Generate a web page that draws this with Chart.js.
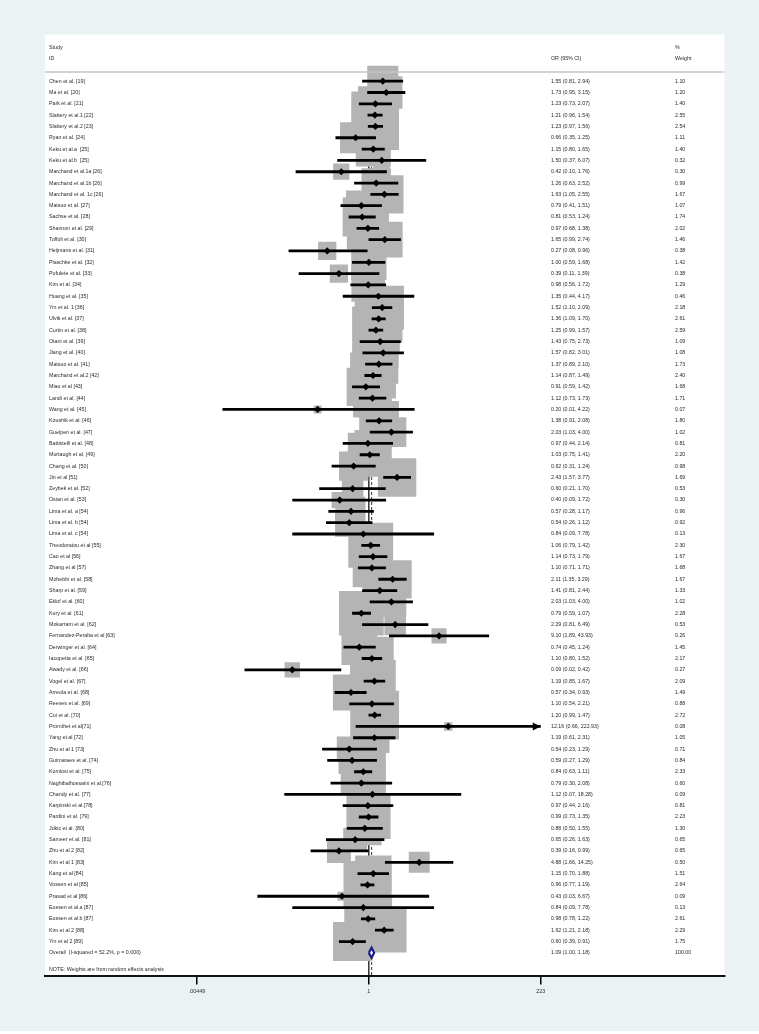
<!DOCTYPE html>
<html><head><meta charset="utf-8">
<script src="https://cdn.jsdelivr.net/npm/chart.js@4/dist/chart.umd.min.js"></script>
<style>html,body{margin:0;padding:0;background:#fff}#wrap{width:759px;height:1034px;position:relative}</style>
</head><body><div id="wrap"><canvas id="c" width="759" height="1034"></canvas></div>
<script>
const studies = [
"Chen et al. [19]","Ma et al. [20]","Park et al. [21]","Slattery et al.1 [22]","Slattery et al.2 [23]",
"Ryan et al. [24]","Keku et al.a  [25]","Keku et al.b  [25]","Marchand et al.1a [26]","Marchand et al.1b [26]",
"Marchand et al. 1c [26]","Matsuo et al. [27]","Sachse et al. [28]","Shannon et al. [29]","Toffoli et al. [30]",
"Heijmans et al. [31]","Plaschke et al. [32]","Pufulete et al. [33]","Kim et al. [34]","Huang et al. [35]",
"Yin et al. 1 [36]","Ulvik et al. [37]","Curtin et al. [38]","Otani et al. [39]","Jiang et al. [40]",
"Matsuo et al. [41]","Marchand et al.2 [42]","Miao et al [43]","Landi et al. [44]","Wang et al. [45]",
"Koushik et al. [46]","Guelpen et al. [47]","Battistelli et al. [48]","Murtaugh et al. [49]","Chang et al. [50]",
"Jin et al [51]","Zeybek et al. [52]","Osian et al. [53]","Lima et al. a [54]","Lima et al. b [54]",
"Lima et al. c [54]","Theodoratou et al [55]","Cao et al [56]","Zhang et al [57]","Mohebbi et al. [58]",
"Sharp et al. [59]","Eklof et al. [60]","Kury et al. [61]","Mokarram et al. [62]","Fernandez-Peralta et al [63]",
"Derwinger et al. [64]","Iacopetta et al. [65]","Awady et al. [66]","Vogel et al. [67]","Arreola et al. [68]",
"Reeves et al. [69]","Cui et al. [70]","Promthet et al[71]","Yang et al [72]","Zhu et al 1 [73]",
"Guimaraes et al. [74]","Komlosi et al. [75]","Naghibalhossaini et al.[76]","Chandy et al. [77]","Karpinski et al.[78]",
"Pardini et al. [79]","Jokic et al. [80]","Sameer et al. [81]","Zhu et al 2 [82]","Kim et al 1 [83]",
"Kang et al [84]","Vossen et al [85]","Prasad et al [86]","Eussen et al.a [87]","Eussen et al.b [87]",
"Kim et al 2 [88]","Yin et al 2 [89]"
];
const orValues = [1.55,1.73,1.23,1.21,1.23,0.66,1.15,1.50,0.42,1.26,1.63,0.79,0.81,0.97,1.65,0.27,1.00,0.39,0.98,1.35,
1.52,1.36,1.25,1.43,1.57,1.37,1.14,0.91,1.12,0.20,1.38,2.03,0.97,1.03,0.62,2.43,0.60,0.40,0.57,0.54,
0.84,1.06,1.14,1.10,2.11,1.41,2.03,0.79,2.29,9.10,0.74,1.10,0.09,1.19,0.57,1.10,1.20,12.16,1.19,0.54,
0.59,0.84,0.79,1.12,0.97,0.99,0.88,0.65,0.39,4.88,1.15,0.96,0.43,0.84,0.98,1.62,0.60];
const ciLower = [0.81,0.95,0.73,0.96,0.97,0.35,0.80,0.37,0.10,0.63,1.05,0.41,0.53,0.68,0.99,0.08,0.59,0.11,0.56,0.44,
1.10,1.09,0.99,0.75,0.82,0.89,0.87,0.59,0.73,0.01,0.91,1.03,0.44,0.75,0.31,1.57,0.21,0.09,0.28,0.26,
0.09,0.79,0.73,0.71,1.35,0.81,1.03,0.59,0.81,1.89,0.45,0.80,0.02,0.85,0.34,0.54,0.99,0.66,0.61,0.23,
0.27,0.63,0.30,0.07,0.44,0.73,0.50,0.26,0.16,1.66,0.70,0.77,0.03,0.09,0.78,1.21,0.39];
const ciUpper = [2.94,3.15,2.07,1.54,1.56,1.25,1.65,6.07,1.76,2.52,2.55,1.51,1.24,1.38,2.74,0.96,1.68,1.39,1.72,4.17,
2.09,1.70,1.57,2.73,3.01,2.10,1.49,1.42,1.73,4.22,2.08,4.00,2.14,1.41,1.24,3.77,1.70,1.72,1.17,1.12,
7.78,1.42,1.79,1.71,3.29,2.44,4.00,1.07,6.49,43.93,1.24,1.52,0.42,1.67,0.93,2.21,1.47,222.93,2.31,1.29,
1.29,1.11,2.08,18.28,2.16,1.35,1.55,1.63,0.99,14.25,1.88,1.19,6.67,7.78,1.22,2.18,0.91];
const weights = [1.10,1.20,1.40,2.55,2.54,1.11,1.40,0.32,0.30,0.99,1.67,1.07,1.74,2.02,1.46,0.38,1.42,0.38,1.29,0.46,
2.18,2.61,2.59,1.09,1.08,1.73,2.40,1.68,1.71,0.07,1.80,1.02,0.81,2.20,0.98,1.69,0.53,0.30,0.96,0.92,
0.13,2.30,1.67,1.68,1.67,1.33,1.02,2.28,0.53,0.26,1.45,2.17,0.27,2.09,1.49,0.88,2.72,0.08,1.05,0.71,
0.84,2.33,0.60,0.09,0.81,2.23,1.30,0.65,0.65,0.50,1.51,2.64,0.09,0.13,2.61,2.29,1.75];
const overallLabel = "Overall  (I-squared = 52.2%, p = 0.000)";
const overallOR = 1.09, overallLower = 1.00, overallUpper = 1.18, overallWeight = 100.00;
const noteText = "NOTE: Weights are from random effects analysis";
const tickValues = [0.00449, 1, 223];
const tickLabels = [".00449", "1", "223"];

// layout (pixels / styling)
const FONT = '5.3px "Liberation Sans", Arial, sans-serif';
const TEXT_COLOR = '#2a2a2a';
const BOX_SCALE = 29.6;
const N = studies.length;
const OVERALL_ROW = N;
const NOTE_ROW = N + 1.45;
const X_MIN = Math.exp(-10.1875), X_MAX = Math.exp(11.1875);
const Y_MIN = -4.12, Y_MAX = N + 2;

const boxData = orValues.map((v,i)=>({x:v,y:i}));
const boxRadius = weights.map(w=>BOX_SCALE*Math.sqrt(w)/(2*Math.SQRT1_2));
const ciData = [];
orValues.forEach((v,i)=>{ ciData.push({x:ciLower[i],y:i},{x:ciUpper[i],y:i},{x:1,y:null}); });

const bgPlugin = {
  id:'bg',
  beforeDraw(chart){
    const {ctx, chartArea:a} = chart;
    ctx.save();
    ctx.fillStyle = '#ffffff';
    ctx.fillRect(0,0,chart.width,chart.height);
    ctx.fillStyle = '#eaf2f3';
    ctx.fillRect(0,0,chart.width,1031);
    ctx.fillStyle = '#ffffff';
    ctx.fillRect(a.left,a.top,a.right-a.left,a.bottom-a.top);
    ctx.restore();
  }
};

const textPlugin = {
  id:'texts',
  afterDraw(chart){
    const {ctx, chartArea:a, scales:{x,y}} = chart;
    ctx.save();
    ctx.font = FONT;
    ctx.fillStyle = TEXT_COLOR;
    ctx.textBaseline = 'middle';
    ctx.textAlign = 'left';
    const colLabel = a.left + 4, colOR = 551, colW = 675;
    ctx.fillText('Study', colLabel, y.getPixelForValue(-3));
    ctx.fillText('ID', colLabel, y.getPixelForValue(-2));
    ctx.fillText('OR (95% CI)', colOR, y.getPixelForValue(-2));
    ctx.fillText('%', colW, y.getPixelForValue(-3));
    ctx.fillText('Weight', colW, y.getPixelForValue(-2));
    ctx.strokeStyle = '#c4c4c4';
    ctx.lineWidth = 1.5;
    ctx.beginPath();
    const hy = y.getPixelForValue(-0.8);
    ctx.moveTo(a.left, hy); ctx.lineTo(a.right, hy); ctx.stroke();
    studies.forEach((s,i)=>{
      const py = y.getPixelForValue(i);
      ctx.fillText(s, colLabel, py);
      ctx.fillText(orValues[i].toFixed(2)+' ('+ciLower[i].toFixed(2)+', '+ciUpper[i].toFixed(2)+')', colOR, py);
      ctx.fillText(weights[i].toFixed(2), colW, py);
    });
    const oy = y.getPixelForValue(OVERALL_ROW);
    ctx.fillText(overallLabel, colLabel, oy);
    ctx.fillText(overallOR.toFixed(2)+' ('+overallLower.toFixed(2)+', '+overallUpper.toFixed(2)+')', colOR, oy);
    ctx.fillText(overallWeight.toFixed(2), colW, oy);
    ctx.fillText(noteText, colLabel, y.getPixelForValue(NOTE_ROW));
    ctx.restore();
  }
};

const arrowPlugin = {
  id:'arrows',
  afterDatasetsDraw(chart){
    const {ctx, scales:{x,y}} = chart;
    const limit = tickValues[tickValues.length-1];
    ctx.save();
    ctx.fillStyle = '#000';
    ciUpper.forEach((h,i)=>{
      if (Math.round(h) >= limit) {
        const px = x.getPixelForValue(limit), py = y.getPixelForValue(i);
        ctx.beginPath();
        ctx.moveTo(px, py);
        ctx.lineTo(px-8, py-4);
        ctx.lineTo(px-8, py+4);
        ctx.closePath();
        ctx.fill();
      }
    });
    ctx.restore();
  }
};

new Chart(document.getElementById('c'), {
  data:{
    datasets:[
      {type:'line', data:[{x:1,y:-0.8},{x:1,y:Y_MAX}], borderColor:'#000', borderWidth:1.2, pointRadius:0, order:10},
      {type:'line', data:[{x:overallOR,y:-0.8},{x:overallOR,y:Y_MAX}], borderColor:'#a03030', borderWidth:1.2, borderDash:[3,2], pointRadius:0, order:9},
      {type:'scatter', data:boxData, pointStyle:'rect', pointRadius:boxRadius, backgroundColor:'#b4b4b4', borderWidth:0, order:8},
      {type:'line', data:ciData, borderColor:'#000', borderWidth:2.8, pointRadius:0, spanGaps:false, borderCapStyle:'butt', order:7},
      {type:'scatter', data:boxData, pointStyle:'rectRot', pointRadius:3.6, backgroundColor:'#000', borderWidth:0, order:6},
      {type:'line', data:[{x:overallLower,y:OVERALL_ROW},{x:overallOR,y:OVERALL_ROW-0.45},{x:overallUpper,y:OVERALL_ROW},{x:overallOR,y:OVERALL_ROW+0.45},{x:overallLower,y:OVERALL_ROW}],
        borderColor:'#1c1c8a', borderWidth:2.2, backgroundColor:'#ffffff', fill:'shape', pointRadius:0, tension:0, order:1}
    ]
  },
  options:{
    responsive:false, animation:false, devicePixelRatio:1,
    layout:{padding:{left:45, right:30, top:28, bottom:0}},
    plugins:{legend:{display:false}, tooltip:{enabled:false}},
    scales:{
      x:{type:'logarithmic', min:X_MIN, max:X_MAX,
        afterBuildTicks(s){ s.ticks = tickValues.map(v=>({value:v})); },
        afterFit(s){ s.height = 58.5; },
        ticks:{callback:(v,i)=>tickLabels[i], font:{family:'"Liberation Sans", Arial, sans-serif', size:5.3}, color:TEXT_COLOR, padding:4, maxRotation:0, autoSkip:false},
        grid:{display:true, drawOnChartArea:false, drawTicks:true, tickLength:9, color:'#000', lineWidth:1.5},
        border:{display:true, color:'#111', width:2}
      },
      y:{type:'linear', min:Y_MIN, max:Y_MAX, reverse:true, display:false}
    }
  },
  plugins:[bgPlugin, textPlugin, arrowPlugin]
});
</script></body></html>
